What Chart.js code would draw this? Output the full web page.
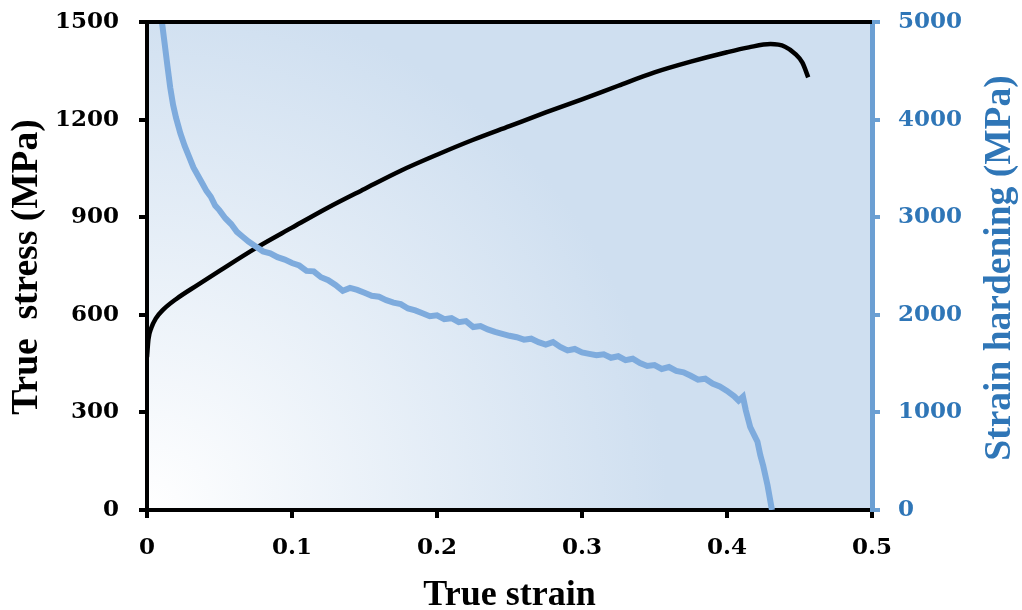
<!DOCTYPE html>
<html>
<head>
<meta charset="utf-8">
<script src="https://cdn.jsdelivr.net/npm/chart.js@4.4.1/dist/chart.umd.min.js"></script>
<style>
  html, body { margin: 0; padding: 0; background: #fff; }
  #wrap { width: 1022px; height: 610px; }
</style>
</head>
<body>
<div id="wrap"><canvas id="stressChart" width="1022" height="610"></canvas></div>
<script>
// True stress curve (left axis)
const stressStrain = [0, 0.001, 0.003, 0.006, 0.011, 0.02, 0.035, 0.05, 0.075, 0.1, 0.125, 0.15, 0.175, 0.2, 0.225, 0.25, 0.275, 0.3, 0.325, 0.35, 0.375, 0.4, 0.415, 0.43, 0.44, 0.447, 0.452, 0.456];
const stressValues = [470, 525, 560, 588, 615, 648, 692, 735, 805, 868, 930, 987, 1043, 1092, 1138, 1180, 1222, 1262, 1304, 1345, 1378, 1407, 1422, 1432, 1424, 1402, 1375, 1330];

// Strain hardening curve (right axis)
const hardStrain = [0.0103, 0.012, 0.014, 0.016, 0.018, 0.02, 0.023, 0.026, 0.029, 0.032, 0.035, 0.038, 0.041, 0.044, 0.047, 0.05, 0.054, 0.058, 0.062, 0.066, 0.07, 0.075, 0.08, 0.085, 0.09, 0.095, 0.1, 0.105, 0.11, 0.115, 0.12, 0.125, 0.13, 0.135, 0.14, 0.145, 0.15, 0.155, 0.16, 0.165, 0.17, 0.175, 0.18, 0.185, 0.19, 0.195, 0.2, 0.205, 0.21, 0.215, 0.22, 0.225, 0.23, 0.235, 0.24, 0.245, 0.25, 0.255, 0.26, 0.265, 0.27, 0.275, 0.28, 0.285, 0.29, 0.295, 0.3, 0.305, 0.31, 0.315, 0.32, 0.325, 0.33, 0.335, 0.34, 0.345, 0.35, 0.355, 0.36, 0.365, 0.37, 0.375, 0.38, 0.385, 0.39, 0.395, 0.4, 0.405, 0.408, 0.411, 0.413, 0.416, 0.419, 0.421, 0.423, 0.425, 0.428, 0.431];
const hardValues = [5000, 4800, 4560, 4330, 4150, 4020, 3860, 3730, 3620, 3510, 3430, 3350, 3270, 3210, 3120, 3070, 2990, 2930, 2850, 2800, 2750, 2700, 2650, 2630, 2590, 2565, 2530, 2505, 2450, 2445, 2385, 2355, 2305, 2245, 2275, 2255, 2225, 2195, 2185, 2150, 2125, 2110, 2065, 2045, 2015, 1985, 1995, 1955, 1965, 1925, 1935, 1875, 1885, 1850, 1825, 1805, 1785, 1770, 1745, 1755, 1720, 1695, 1720, 1670, 1635, 1650, 1615, 1600, 1585, 1595, 1560, 1575, 1535, 1550, 1505, 1475, 1485, 1445, 1465, 1425, 1410, 1375, 1335, 1345, 1295, 1265, 1220, 1165, 1120, 1160, 1020, 850, 760, 700, 560, 450, 250, 0];

const xTicks = [0, 0.1, 0.2, 0.3, 0.4, 0.5];
const leftTicks = [0, 300, 600, 900, 1200, 1500];
const rightTicks = [0, 1000, 2000, 3000, 4000, 5000];

const TICK_FONT = "'DejaVu Serif', serif";
const TITLE_FONT = "'Liberation Serif', 'Times New Roman', serif";
const BLUE_LINE = '#7eabdd';
const BLUE_AXIS = '#6b9fd3';
const BLUE_TEXT = '#2f76b7';

// gradient panel, top border and the three axis titles
const panelPlugin = {
    id: 'panel',
    beforeDraw(chart) {
        const { ctx, chartArea: a } = chart;
        const g = ctx.createRadialGradient(a.left, a.bottom, 0, a.left, a.bottom, 520);
        g.addColorStop(0, '#ffffff');
        g.addColorStop(1, '#cfdff0');
        ctx.save();
        ctx.fillStyle = g;
        ctx.fillRect(a.left, a.top, a.right - a.left, a.bottom - a.top);
        ctx.restore();
    },
    afterDraw(chart) {
        const { ctx, chartArea: a } = chart;
        const midY = (a.top + a.bottom) / 2;
        ctx.save();
        ctx.strokeStyle = '#000';
        ctx.lineWidth = 4;
        ctx.beginPath();
        ctx.moveTo(a.left - 2, a.top);
        ctx.lineTo(a.right, a.top);
        ctx.stroke();

        ctx.textAlign = 'center';
        ctx.textBaseline = 'alphabetic';
        ctx.fillStyle = '#000';
        ctx.font = 'bold 36px ' + TITLE_FONT;
        ctx.fillText('True strain', (a.left + a.right) / 2, 605);

        ctx.font = 'bold 37.5px ' + TITLE_FONT;
        ctx.save();
        ctx.translate(37, midY + 1);
        ctx.rotate(-Math.PI / 2);
        ctx.fillText('True  stress (MPa)', 0, 0);
        ctx.restore();

        ctx.translate(1010, midY + 2);
        ctx.rotate(-Math.PI / 2);
        ctx.fillStyle = BLUE_TEXT;
        ctx.fillText('Strain hardening (MPa)', 0, 0);
        ctx.restore();
    }
};

// fixed axis sizes so the plot area sits where the reference has it
const fixV = w => s => { s.width = w; s.paddingTop = 0; s.paddingBottom = 0; };

const ctx = document.getElementById('stressChart').getContext('2d');
new Chart(ctx, {
    type: 'scatter',
    data: {
        datasets: [{
            label: 'Strain hardening',
            data: hardStrain.map((x, i) => ({ x: x, y: hardValues[i] })),
            yAxisID: 'y2',
            showLine: true,
            borderColor: BLUE_LINE,
            borderWidth: 6,
            pointRadius: 0,
            tension: 0
        }, {
            label: 'True stress',
            data: stressStrain.map((x, i) => ({ x: x, y: stressValues[i] })),
            yAxisID: 'y',
            showLine: true,
            borderColor: '#000000',
            borderWidth: 4.5,
            pointRadius: 0,
            cubicInterpolationMode: 'monotone'
        }]
    },
    options: {
        responsive: false,
        animation: false,
        layout: { padding: { top: 22, left: 0, right: 0, bottom: 0 } },
        plugins: { legend: { display: false }, tooltip: { enabled: false } },
        scales: {
            x: {
                type: 'linear', min: 0, max: 0.5,
                afterBuildTicks: s => { s.ticks = xTicks.map(v => ({ value: v })); },
                afterFit: s => { s.height = 100; s.paddingLeft = 0; s.paddingRight = 0; },
                border: { color: '#000', width: 4 },
                grid: { drawOnChartArea: false, color: '#000', lineWidth: 4, tickLength: 8 },
                ticks: { color: '#000', padding: 16, font: { family: TICK_FONT, size: 23, weight: 'bold' },
                    callback: v => String(v) }
            },
            y: {
                position: 'left', min: 0, max: 1500,
                afterBuildTicks: s => { s.ticks = leftTicks.map(v => ({ value: v })); },
                afterFit: fixV(147),
                border: { color: '#000', width: 4 },
                grid: { drawOnChartArea: false, color: '#000', lineWidth: 4, tickLength: 8 },
                ticks: { color: '#000', padding: 20, font: { family: TICK_FONT, size: 23, weight: 'bold' },
                    callback: v => String(v) }
            },
            y2: {
                position: 'right', min: 0, max: 5000,
                afterBuildTicks: s => { s.ticks = rightTicks.map(v => ({ value: v })); },
                afterFit: fixV(150),
                border: { color: BLUE_AXIS, width: 5 },
                grid: { drawOnChartArea: false, color: BLUE_AXIS, lineWidth: 4, tickLength: 8 },
                ticks: { color: BLUE_TEXT, padding: 18, font: { family: TICK_FONT, size: 23, weight: 'bold' },
                    callback: v => String(v) }
            }
        }
    },
    plugins: [panelPlugin]
});
</script>
</body>
</html>
